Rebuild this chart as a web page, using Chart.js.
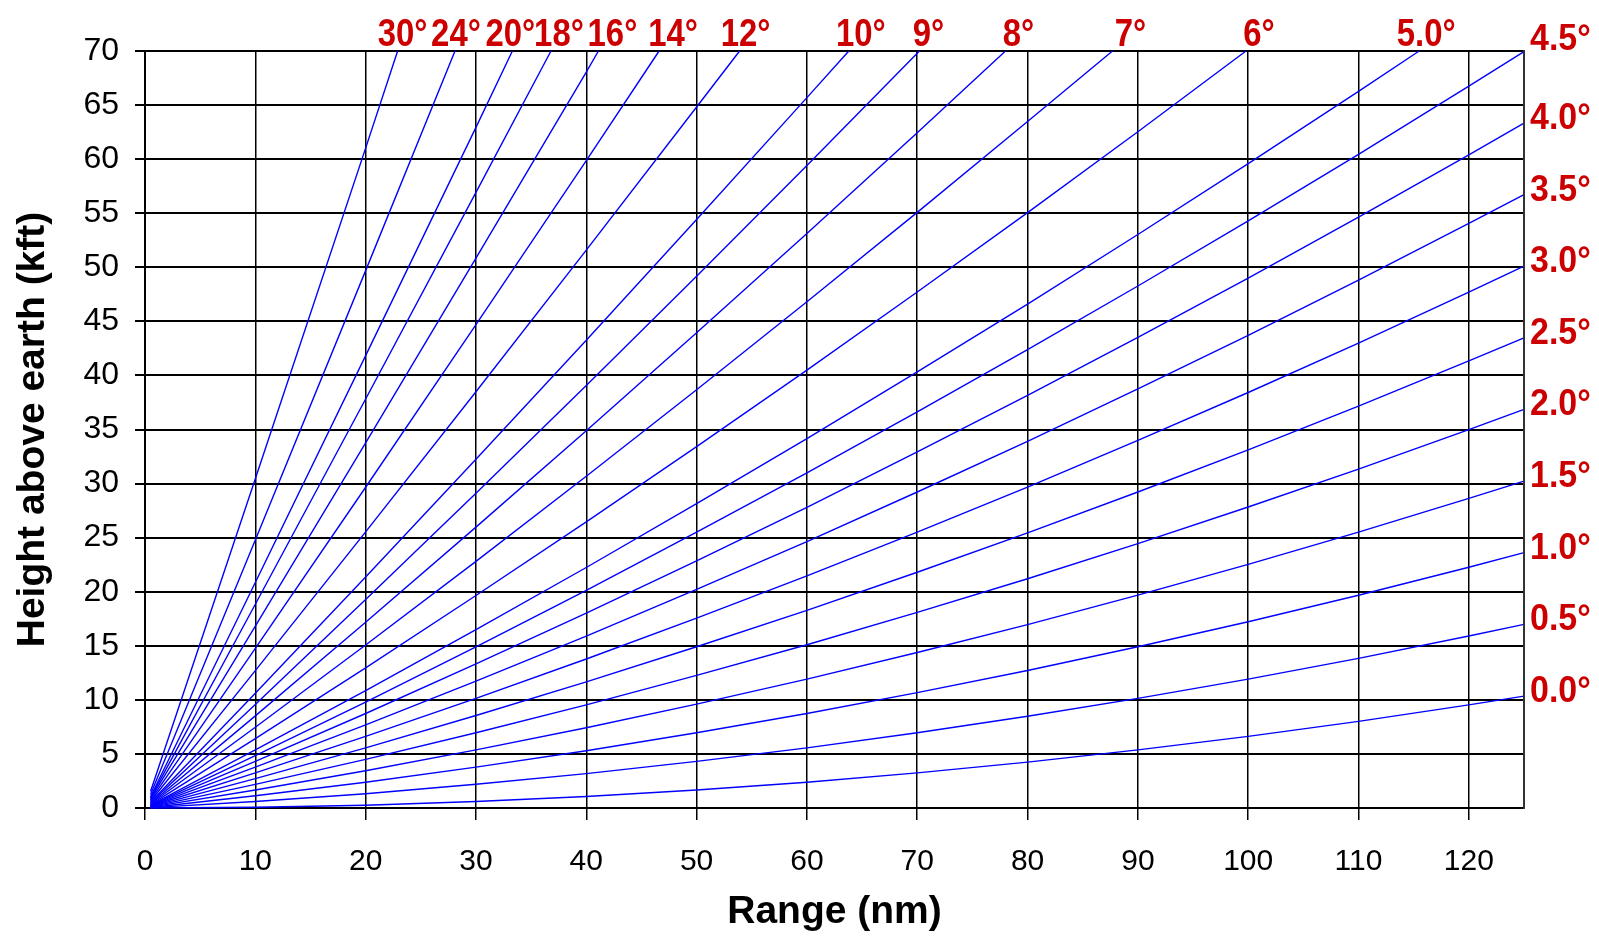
<!DOCTYPE html>
<html>
<head>
<meta charset="utf-8">
<script src="https://cdn.jsdelivr.net/npm/chart.js@4.4.0/dist/chart.umd.min.js"></script>
<style>
  html, body { margin: 0; padding: 0; background: #ffffff; }
  #wrap { width: 1599px; height: 936px; position: relative; }
</style>
</head>
<body>
<div id="wrap"><canvas id="c"></canvas></div>
<script>
// ---- DATA ----
// Range in nautical miles where heights were read
const rangeNm = [0.5, 10, 20, 30, 40, 50, 60, 70, 80, 90, 100, 110, 120, 125];

// Beam height above earth (kft) for each elevation angle, at the ranges above
const elev0_0 = [0, 0.07, 0.26, 0.60, 1.06, 1.66, 2.38, 3.25, 4.24, 5.37, 6.62, 8.01, 9.54, 10.35];
const elev0_5 = [0.03, 0.60, 1.32, 2.19, 3.18, 4.31, 5.56, 6.96, 8.48, 10.14, 11.92, 13.84, 15.90, 16.98];
const elev1_0 = [0.05, 1.13, 2.38, 3.78, 5.30, 6.96, 8.74, 10.67, 12.72, 14.91, 17.22, 19.67, 22.26, 23.61];
const elev1_5 = [0.08, 1.66, 3.44, 5.37, 7.42, 9.61, 11.92, 14.38, 16.96, 19.68, 22.53, 25.51, 28.63, 30.23];
const elev2_0 = [0.11, 2.19, 4.50, 6.96, 9.54, 12.26, 15.10, 18.09, 21.20, 24.45, 27.83, 31.34, 34.99, 36.86];
const elev2_5 = [0.13, 2.72, 5.56, 8.55, 11.66, 14.91, 18.28, 21.80, 25.44, 29.22, 33.12, 37.16, 41.34, 43.48];
const elev3_0 = [0.16, 3.25, 6.62, 10.14, 13.78, 17.56, 21.46, 25.51, 29.68, 33.99, 38.42, 42.99, 47.70, 50.10];
const elev3_5 = [0.19, 3.78, 7.68, 11.73, 15.90, 20.21, 24.64, 29.22, 33.91, 38.75, 43.71, 48.81, 54.05, 56.72];
const elev4_0 = [0.21, 4.31, 8.74, 13.32, 18.01, 22.85, 27.81, 32.92, 38.15, 43.52, 49.00, 54.63, 60.40, 63.33];
const elev4_5 = [0.24, 4.84, 9.79, 14.90, 20.13, 25.50, 30.98, 36.62, 42.38, 48.27, 54.29, 60.45, 66.75, 69.94];
const elev5_0 = [0.26, 5.37, 10.85, 16.49, 22.24, 28.14, 34.15, 40.32, 46.60, 53.03, 59.58, 66.26];
const elev6  = [0.32, 6.42, 12.96, 19.65, 26.46, 33.42, 40.49, 47.71, 55.05, 62.53];
const elev7  = [0.37, 7.47, 15.07, 22.81, 30.68, 38.68, 46.81, 55.08, 63.48];
const elev8  = [0.42, 8.52, 17.18, 25.97, 34.88, 43.94, 53.12, 62.44];
const elev9  = [0.48, 9.57, 19.27, 29.11, 39.08, 49.18, 59.41];
const elev10 = [0.53, 10.62, 21.37, 32.25, 43.26, 54.41, 65.69];
const elev12 = [0.63, 12.70, 25.53, 38.49, 51.59, 64.82];
const elev14 = [0.73, 14.77, 29.66, 44.69, 59.86];
const elev16 = [0.84, 16.81, 33.76, 50.84, 68.05];
const elev18 = [0.94, 18.84, 37.82, 56.92];
const elev20 = [1.04, 20.85, 41.83, 62.94];
const elev24 = [1.24, 24.78, 49.69];
const elev30 = [1.52, 30.45, 61.02];

// Angle labels, in the same order as the series list
const angleLabels = ['0.0°','0.5°','1.0°','1.5°','2.0°','2.5°','3.0°','3.5°','4.0°','4.5°',
                     '5.0°','6°','7°','8°','9°','10°','12°','14°','16°','18°','20°','24°','30°'];
const seriesHeights = [elev0_0, elev0_5, elev1_0, elev1_5, elev2_0, elev2_5, elev3_0, elev3_5, elev4_0, elev4_5,
                       elev5_0, elev6, elev7, elev8, elev9, elev10, elev12, elev14, elev16, elev18, elev20, elev24, elev30];
// Range (nm) where a beam leaves the top of the chart (70 kft); null = reaches 125 nm
const topExitRange = [null, null, null, null, null, null, null, null, null, null,
                      115.5, 99.8, 87.7, 78.0, 70.2, 63.8, 53.9, 46.6, 41.1, 36.8, 33.3, 28.1, 22.9];
const topHeight = 70;

const xTicks = { min: 0, max: 125, step: 10 };
const yTicks = { min: 0, max: 70, step: 5 };

// ---- styling: label placement nudges (pixels) ----
const labelNudgeX = [0,0,0,0,0,0,0,0,0,0, 7,13,18,13,9,12,6,14,14,8,-2,1,5];
const labelNudgeY = [-4.5,-4.5,-4.5,-4.5,-4.5,-4.5,-4.5,-4.5,-4.5,-12, 0,0,0,0,0,0,0,0,0,0,0,0,0];

// ---- build datasets ----
const datasets = seriesHeights.map((hs, i) => {
  const pts = hs.map((h, j) => ({ x: rangeNm[j], y: h }));
  if (topExitRange[i] !== null) pts.push({ x: topExitRange[i], y: topHeight });
  return {
    label: angleLabels[i],
    data: pts,
    borderColor: 'rgb(0,0,255)',
    borderWidth: 1.4,
    pointRadius: 0,
    tension: 0,
    fill: false,
    clip: 2
  };
});

const RED = '#cc0000';
const labelFont = 'bold 35px "Liberation Sans", Arial, sans-serif';

const angleLabelPlugin = {
  id: 'angleLabels',
  afterDatasetsDraw(chart) {
    const { ctx, chartArea, scales } = chart;
    ctx.save();
    ctx.font = labelFont;
    ctx.fillStyle = RED;
    chart.data.datasets.forEach((ds, i) => {
      const last = ds.data[ds.data.length - 1];
      const px = scales.x.getPixelForValue(last.x);
      const py = scales.y.getPixelForValue(last.y);
      ctx.save();
      if (topExitRange[i] !== null) {
        ctx.textAlign = 'center';
        ctx.textBaseline = 'alphabetic';
        ctx.translate(px + labelNudgeX[i], chartArea.top - 5 + labelNudgeY[i]);
        ctx.scale(0.94, 1.1);
        ctx.fillText(ds.label, 0, 0);
      } else {
        ctx.textAlign = 'left';
        ctx.textBaseline = 'middle';
        ctx.translate(chartArea.right + 6 + labelNudgeX[i], py + labelNudgeY[i]);
        ctx.scale(0.97, 1.08);
        ctx.fillText(ds.label, 0, 0);
      }
      ctx.restore();
    });
    ctx.restore();
  },
  afterDraw(chart) {
    const { ctx, chartArea } = chart;
    ctx.save();
    ctx.strokeStyle = '#333';
    ctx.lineWidth = 2;
    ctx.beginPath();
    ctx.moveTo(chartArea.right, chartArea.top - 1);
    ctx.lineTo(chartArea.right, chartArea.bottom + 1);
    ctx.stroke();
    ctx.restore();
  }
};

const xTickFont = { family: '"Liberation Sans", Arial, sans-serif', size: 30 };
const yTickFont = { family: '"Liberation Sans", Arial, sans-serif', size: 32 };
const titleFont = { family: '"Liberation Sans", Arial, sans-serif', size: 39, weight: 'bold' };

new Chart(document.getElementById('c'), {
  type: 'line',
  data: { datasets },
  plugins: [angleLabelPlugin],
  options: {
    responsive: true,
    maintainAspectRatio: false,
    animation: false,
    events: [],
    layout: { padding: { top: 51, right: 75, left: 0, bottom: 0 } },
    plugins: { legend: { display: false }, tooltip: { enabled: false }, title: { display: false } },
    scales: {
      x: {
        type: 'linear',
        min: xTicks.min, max: xTicks.max,
        ticks: { stepSize: xTicks.step, includeBounds: false, color: '#000', font: xTickFont, padding: 24, maxRotation: 0 },
        grid: { color: '#000', lineWidth: 1.5, tickLength: 12, drawTicks: true },
        border: { display: true, color: '#000', width: 2 },
        title: { display: true, text: 'Range (nm)', color: '#000', font: titleFont, padding: { top: 0, bottom: 0 } },
        afterFit(scale) { scale.height = 128; }
      },
      y: {
        type: 'linear',
        min: yTicks.min, max: yTicks.max,
        ticks: { stepSize: yTicks.step, color: '#000', font: yTickFont, padding: 16 },
        grid: { color: '#000', lineWidth: 2, tickLength: 10, drawTicks: true },
        border: { display: true, color: '#000', width: 2 },
        title: { display: true, text: 'Height above earth (kft)', color: '#000', font: titleFont, padding: { top: 10, bottom: 0 } },
        afterFit(scale) { scale.width = 145; }
      }
    }
  }
});
</script>
</body>
</html>
